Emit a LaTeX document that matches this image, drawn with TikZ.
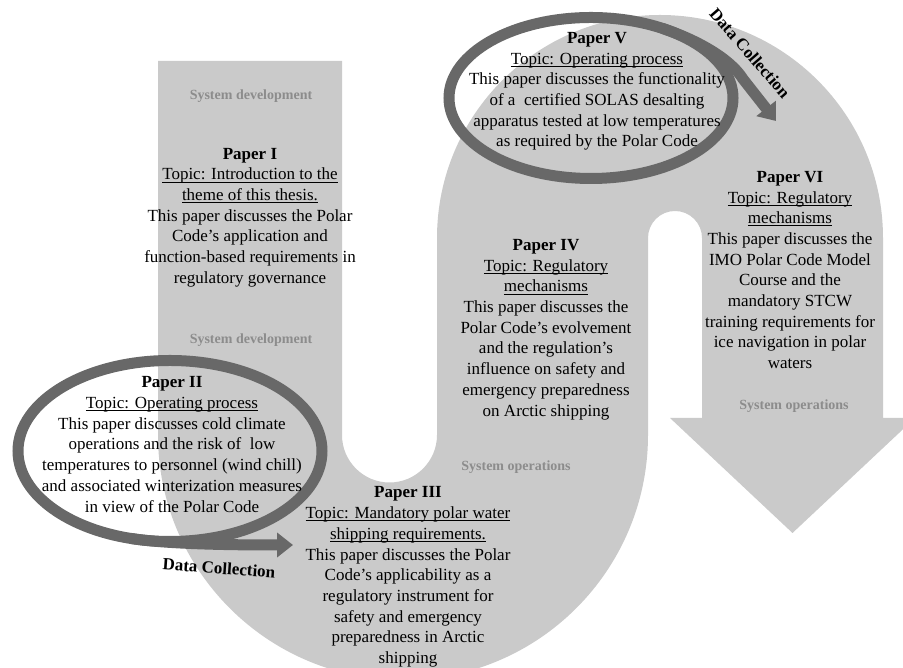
\documentclass[tikz,border=0pt]{standalone}
\usepackage{fontspec}
\setmainfont{Liberation Serif}
\usetikzlibrary{arrows.meta}
\definecolor{band}{RGB}{202,202,202}
\definecolor{ring}{RGB}{104,104,104}
\definecolor{phasegray}{RGB}{140,140,140}
\newcommand{\tul}[1]{\setbox0\hbox{#1}\rlap{\rule[-2.6pt]{\wd0}{0.9pt}}\box0}
\begin{document}
\begin{tikzpicture}[x=1pt,y=1pt,
  paper/.style={align=center,font=\fontsize{17}{20.7}\selectfont,inner sep=0pt,text=black},
  phase/.style={font=\fontsize{14}{16}\selectfont\bfseries,text=phasegray,inner sep=0pt},
  dclabel/.style={font=\fontsize{17}{20}\selectfont\bfseries,inner sep=0pt},
  ringline/.style={draw=ring,line width=11pt},
  dcarrow/.style={draw=ring,line width=11pt,line join=round,-{Triangle[length=16pt,width=24pt]}}]
\useasboundingbox (0,0) rectangle (903,668);
\clip (0,0) rectangle (903,668);
% the gray band
\fill[band] (158,607) -- (342,607) -- (342,233)
  arc[start angle=180,end angle=360,radius=47.5] -- (437,430)
  arc[start angle=180,end angle=0,radius=223] -- (883,250) -- (915,250)
  -- (792.5,135) -- (670,250) -- (702,250) -- (702,430)
  arc[start angle=0,end angle=180,radius=27] -- (648,233)
  arc[start angle=0,end angle=-180,radius=245] -- cycle;
% phase labels
\node[phase] (sd1) at (251,572) {System development};
\node[phase] (sd2) at (251,328) {System development};
\node[phase] (so1) at (516,201) {System operations};
\node[phase] (so2) at (794,262) {System operations};
% rings with data collection arrows
\draw[ringline] (170,217) ellipse[x radius=152,y radius=90.5];
\coordinate (iiS) at (130.7,129.6);
\coordinate (iiT) at (293,123);
\draw[dcarrow] (iiS) .. controls (171,123) and (253,123) .. (iiT);
\draw[ringline] (591,570) ellipse[x radius=142,y radius=80.5];
\coordinate (vS) at (662,639.7);
\coordinate (vB) at (743,589);
\coordinate (vT) at (776,547);
\draw[dcarrow] (vS) .. controls (695,629) and (730,610) .. (vB) -- (vT);
\node[dclabel,rotate=-4] (dc1) at (219,100) {Data Collection};
\node[dclabel,rotate=-49] (dc2) at (750,615) {Data Collection};
% papers
\node[paper] (p1) at (250,450.5) {\textbf{Paper I}\\ \tul{Topic: Introduction to the}\\ \tul{theme of this thesis.}\\ This paper discusses the Polar\\ Code’s application and\\ function-based requirements in\\ regulatory governance};
\node[paper] (p2) at (172,223.5) {\textbf{Paper II}\\ \tul{Topic: Operating process}\\ This paper discusses cold climate\\ operations and the risk of~ low\\ temperatures to personnel (wind chill)\\ and associated winterization measures\\ in view of the Polar Code};
\node[paper] (p3) at (408,91) {\textbf{Paper III}\\ \tul{Topic: Mandatory polar water}\\ \tul{shipping requirements.}\\ This paper discusses the Polar\\ Code’s applicability as a\\ regulatory instrument for\\ safety and emergency\\ preparedness in Arctic\\ shipping};
\node[paper] (p4) at (546,338.5) {\textbf{Paper IV}\\ \tul{Topic: Regulatory}\\ \tul{mechanisms}\\ This paper discusses the\\ Polar Code’s evolvement\\ and the regulation’s\\ influence on safety and\\ emergency preparedness\\ on Arctic shipping};
\node[paper] (p5) at (597,576.5) {\textbf{Paper V}\\ \tul{Topic: Operating process}\\ This paper discusses the functionality\\ of a~ certified SOLAS desalting\\ apparatus tested at low temperatures\\ as required by the Polar Code};
\node[paper] (p6) at (790,398) {\textbf{Paper VI}\\ \tul{Topic: Regulatory}\\ \tul{mechanisms}\\ This paper discusses the\\ IMO Polar Code Model\\ Course and the\\ mandatory STCW\\ training requirements for\\ ice navigation in polar\\ waters};
\end{tikzpicture}
\end{document}
